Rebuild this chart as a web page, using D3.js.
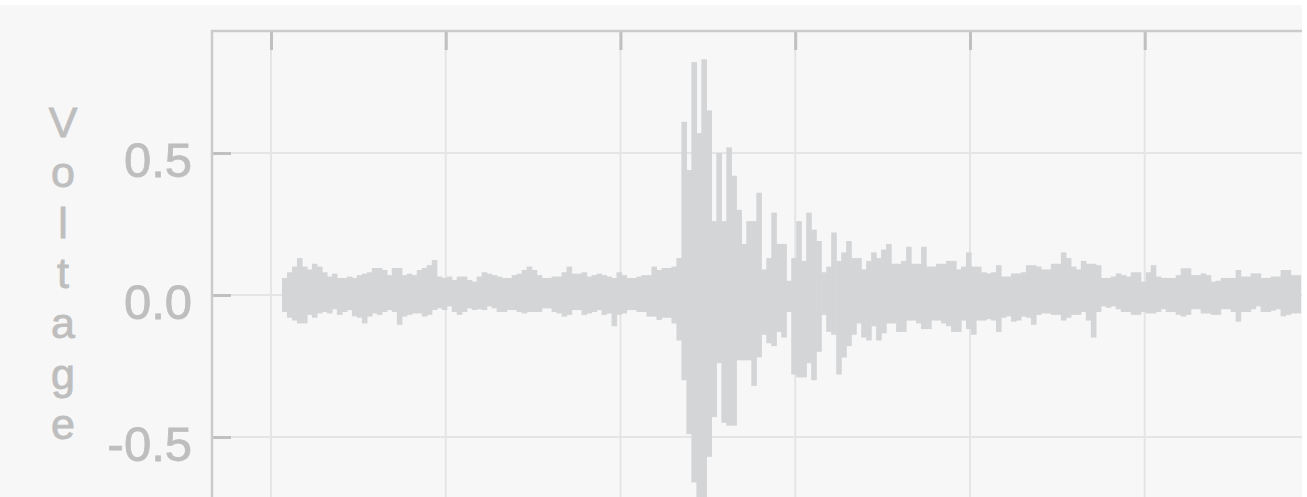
<!DOCTYPE html>
<html>
<head>
<meta charset="utf-8">
<script src="https://cdn.jsdelivr.net/npm/d3@7"></script>
<style>
  html, body { margin: 0; padding: 0; background: #ffffff; overflow: hidden; }
  svg { display: block; }
</style>
</head>
<body>
<svg id="chart" width="1307" height="497"></svg>
<script>
// ---- data ---------------------------------------------------------------
const axisTitle = "Voltage";
const yTicks = [-0.5, 0, 0.5];
const yTickLabels = ["-0.5", "0.0", "0.5"];
const xTicks = [0, 1, 2, 3, 4, 5];           // seconds
const sampleStart = 0.063;                    // time of first envelope bin (s)
const sampleStep = 1 / 35;                    // width of one envelope bin (s)

// per-bin maximum voltage of the recording
const hi = [
  0.06, 0.08, 0.10, 0.13, 0.10, 0.09, 0.11, 0.10, 0.08, 0.065,
  0.075, 0.06, 0.06, 0.065, 0.06, 0.07, 0.075, 0.08, 0.095, 0.095,
  0.088, 0.07, 0.095, 0.095, 0.07, 0.075, 0.07, 0.088, 0.095, 0.105,
  0.123, 0.065, 0.06, 0.065, 0.053, 0.065, 0.065, 0.053, 0.047,
  0.065, 0.08, 0.075, 0.07, 0.065, 0.06, 0.06, 0.07, 0.075, 0.088,
  0.10, 0.088, 0.07, 0.06, 0.06, 0.065, 0.065, 0.08, 0.10, 0.075,
  0.075, 0.08, 0.065, 0.07, 0.075, 0.07, 0.065, 0.06, 0.08, 0.07,
  0.06, 0.06, 0.065, 0.07, 0.07, 0.10, 0.088, 0.095, 0.095,
  0.10, 0.13, 0.61, 0.44, 0.82, 0.57, 0.83, 0.65, 0.26, 0.50,
  0.26, 0.52, 0.42, 0.30, 0.18, 0.26, 0.26, 0.36, 0.09, 0.13,
  0.29, 0.18, 0.18, 0.05, 0.13, 0.26, 0.12, 0.29, 0.23, 0.19,
  0.08, 0.10, 0.22, 0.12, 0.15, 0.19, 0.13, 0.13, 0.09, 0.12,
  0.15, 0.13,
  0.16, 0.18, 0.11, 0.11, 0.12, 0.17, 0.11, 0.11, 0.17, 0.10,
  0.10, 0.11, 0.11, 0.12, 0.12, 0.09, 0.10, 0.15, 0.10, 0.10,
  0.08, 0.076, 0.08, 0.105, 0.065, 0.065, 0.076, 0.076, 0.08, 0.105,
  0.105, 0.10, 0.09, 0.09, 0.11, 0.11, 0.15, 0.13, 0.10, 0.09,
  0.12, 0.11, 0.11,
  0.105, 0.06, 0.06, 0.065, 0.076, 0.07, 0.065, 0.08, 0.08, 0.047,
  0.08, 0.105, 0.065, 0.06, 0.06, 0.06, 0.07, 0.094, 0.094, 0.07,
  0.07, 0.076, 0.07, 0.047, 0.05, 0.06, 0.06, 0.06, 0.088, 0.065,
  0.065, 0.076, 0.076, 0.06, 0.06, 0.065, 0.065, 0.088, 0.088, 0.07,
  0.07
];

// per-bin minimum voltage of the recording
const lo = [
  -0.06, -0.08, -0.09, -0.10, -0.10, -0.07, -0.08, -0.065, -0.06, -0.065,
  -0.05, -0.07, -0.06, -0.053, -0.075, -0.08, -0.10, -0.076, -0.065, -0.07,
  -0.06, -0.053, -0.06, -0.105, -0.076, -0.07, -0.065, -0.065, -0.076, -0.07,
  -0.053, -0.047, -0.053, -0.04, -0.06, -0.07, -0.06, -0.047, -0.053,
  -0.05, -0.053, -0.04, -0.047, -0.06, -0.06, -0.053, -0.053, -0.06, -0.065,
  -0.06, -0.06, -0.06, -0.047, -0.047, -0.06, -0.065, -0.076, -0.07, -0.053,
  -0.053, -0.07, -0.065, -0.06, -0.053, -0.07, -0.065, -0.11, -0.07, -0.065,
  -0.053, -0.053, -0.06, -0.06, -0.076, -0.076, -0.088, -0.08, -0.08,
  -0.10, -0.16, -0.30, -0.49, -0.66, -0.76, -0.74, -0.57, -0.43, -0.24,
  -0.45, -0.46, -0.46, -0.23, -0.23, -0.23, -0.32, -0.22, -0.14, -0.17,
  -0.18, -0.13, -0.15, -0.06, -0.28, -0.29, -0.29, -0.24, -0.30, -0.20,
  -0.07, -0.13, -0.14, -0.28, -0.22, -0.18, -0.14, -0.10, -0.15, -0.16,
  -0.11, -0.16,
  -0.135, -0.10, -0.10, -0.13, -0.13, -0.09, -0.09, -0.10, -0.12, -0.12,
  -0.09, -0.09, -0.10, -0.11, -0.13, -0.13, -0.09, -0.12, -0.14, -0.09,
  -0.09, -0.085, -0.09, -0.13, -0.08, -0.075, -0.094, -0.09, -0.076, -0.08,
  -0.105, -0.07, -0.065, -0.065, -0.07, -0.07, -0.09, -0.08, -0.07, -0.07,
  -0.06, -0.09, -0.15,
  -0.06, -0.04, -0.045, -0.04, -0.05, -0.06, -0.06, -0.07, -0.07, -0.06,
  -0.065, -0.065, -0.06, -0.05, -0.06, -0.06, -0.07, -0.076, -0.07, -0.05,
  -0.05, -0.065, -0.065, -0.07, -0.07, -0.05, -0.05, -0.06, -0.094, -0.06,
  -0.06, -0.05, -0.04, -0.06, -0.06, -0.055, -0.05, -0.075, -0.07, -0.065,
  -0.065
];

// ---- layout -------------------------------------------------------------
const frame = { left: 212, top: 31, right: 1302, bottom: 497 };
const colors = {
  panel: "#f7f7f7",
  grid: "#e5e5e5",
  frame: "#cbcbcb",
  tick: "#c0c0c0",
  text: "#bebebe",
  wave: "#d4d5d7"
};
const font = "'Liberation Sans', Arial, Helvetica, sans-serif";

const svg = d3.select("#chart");

const x = d3.scaleLinear().domain([-0.3375, 5.9]).range([frame.left, frame.right]);
const y = d3.scaleLinear().domain([-0.5, 0.5]).range([437, 153]);

// panel background
svg.append("rect")
  .attr("x", 0).attr("y", 5)
  .attr("width", frame.right).attr("height", 497 - 5)
  .attr("fill", colors.panel);

svg.append("defs").append("clipPath").attr("id", "plot-clip")
  .append("rect")
  .attr("x", frame.left).attr("y", frame.top)
  .attr("width", frame.right - frame.left)
  .attr("height", frame.bottom - frame.top);

// grid
const grid = svg.append("g").attr("clip-path", "url(#plot-clip)");
grid.selectAll("line.vgrid").data(xTicks).join("line")
  .attr("class", "vgrid")
  .attr("x1", d => x(d)).attr("x2", d => x(d))
  .attr("y1", frame.top).attr("y2", frame.bottom)
  .attr("stroke", colors.grid).attr("stroke-width", 2);
grid.selectAll("line.hgrid").data(yTicks).join("line")
  .attr("class", "hgrid")
  .attr("x1", frame.left).attr("x2", frame.right)
  .attr("y1", d => y(d)).attr("y2", d => y(d))
  .attr("stroke", colors.grid).attr("stroke-width", 2);

// waveform envelope: one column per bin spanning [min, max]
const bins = hi.map((h, i) => ({ t: sampleStart + i * sampleStep, hi: h, lo: lo[i] }));
const binPx = x(sampleStep) - x(0);
svg.append("g").attr("clip-path", "url(#plot-clip)")
  .selectAll("rect").data(bins).join("rect")
  .attr("x", d => x(d.t))
  .attr("width", binPx + 0.6)
  .attr("y", d => y(d.hi))
  .attr("height", d => y(d.lo) - y(d.hi))
  .attr("fill", colors.wave);

// top axis: inward ticks only
const topAxis = svg.append("g")
  .attr("transform", `translate(0,${frame.top})`)
  .call(d3.axisTop(x).tickValues(xTicks).tickSize(-19).tickSizeOuter(0).tickFormat(""));
topAxis.select(".domain").remove();
topAxis.selectAll(".tick line").attr("stroke", colors.tick).attr("stroke-width", 3);

// left axis: inward ticks + labels
const leftAxis = svg.append("g")
  .attr("transform", `translate(${frame.left},0)`)
  .call(d3.axisLeft(y).tickValues(yTicks).tickSize(-19).tickSizeOuter(0).tickPadding(20)
    .tickFormat((d, i) => yTickLabels[i]));
leftAxis.select(".domain").remove();
leftAxis.selectAll(".tick line").attr("stroke", colors.tick).attr("stroke-width", 3);
leftAxis.selectAll(".tick text")
  .attr("fill", colors.text)
  .attr("stroke", colors.text)
  .attr("stroke-width", 0.8)
  .attr("font-family", font)
  .attr("font-size", 49)
  .attr("dy", "0.48em");

// frame
svg.append("path")
  .attr("d", `M${frame.left},${frame.bottom}V${frame.top}H${frame.right}`)
  .attr("fill", "none")
  .attr("stroke", colors.frame)
  .attr("stroke-width", 2.5);

// axis title, one letter per line
svg.append("g").selectAll("text").data(axisTitle.split("")).join("text")
  .attr("x", 63)
  .attr("y", (d, i) => 137 + i * 50.3)
  .attr("text-anchor", "middle")
  .attr("font-family", font)
  .attr("font-size", 43)
  .attr("fill", colors.text)
  .attr("stroke", colors.text)
  .attr("stroke-width", 0.9)
  .text(d => d);
</script>
</body>
</html>
